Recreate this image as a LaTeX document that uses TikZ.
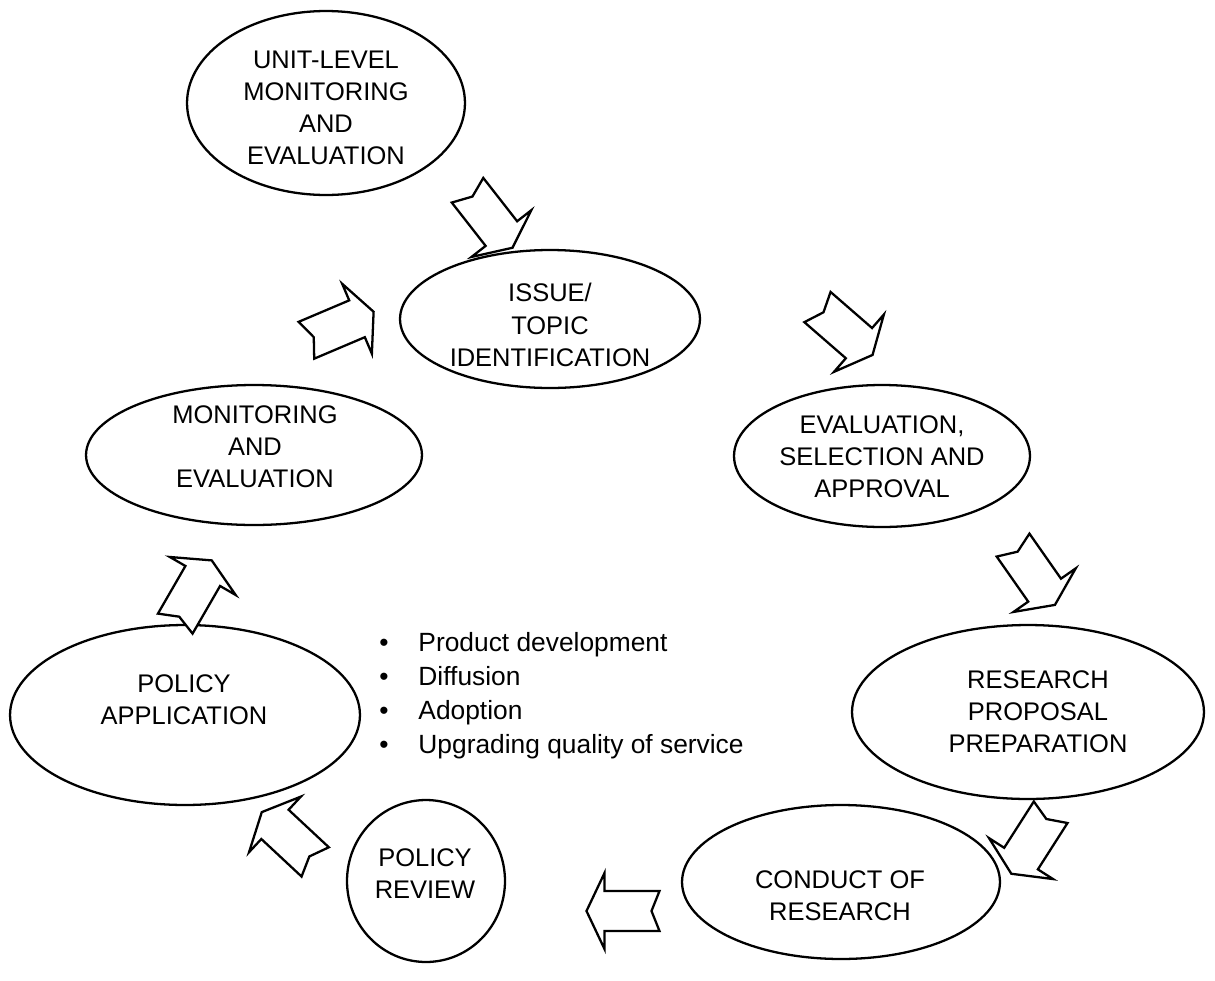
\documentclass[tikz,border=0pt]{standalone}
\usepackage{fontspec}
\setmainfont{Liberation Sans}
\usetikzlibrary{shapes.geometric}
\newcommand\notcharrow[3]{%
  \draw[blockarrow, shift={(#1,#2)}, rotate=#3]
    (-36.5,20) -- (18.5,20) -- (18.5,38) -- (36.5,0) -- (18.5,-38) -- (18.5,-20)
    -- (-36.5,-20) -- (-28.5,0) -- cycle;}
\begin{document}
\begin{tikzpicture}[x=0.02cm,y=-0.02cm,
  stage/.style={draw, ellipse, line width=1.3pt, inner sep=0pt},
  stagetext/.style={inner sep=0pt, align=center, font=\fontsize{14.5}{18.3}\selectfont},
  blockarrow/.style={draw, line width=1.3pt, fill=white, line join=miter}]
\useasboundingbox[fill=white] (0,0) rectangle (1215,981);

\node[stage, minimum width=5.56cm, minimum height=3.68cm] (unit) at (326,103) {};
\node[stagetext] (unitT) at (326,108) {UNIT-LEVEL\\MONITORING\\AND\\EVALUATION};
\node[stage, minimum width=6.0cm, minimum height=2.76cm] (issue) at (550,319) {};
\node[stagetext] (issueT) at (550,325) {ISSUE/\\TOPIC\\IDENTIFICATION};
\node[stage, minimum width=5.92cm, minimum height=2.84cm] (eval) at (882,456) {};
\node[stagetext] (evalT) at (882,456.5) {EVALUATION,\\SELECTION AND\\APPROVAL};
\node[stage, minimum width=7.04cm, minimum height=3.48cm] (proposal) at (1028,712) {};
\node[stagetext] (proposalT) at (1038,711.5) {RESEARCH\\PROPOSAL\\PREPARATION};
\node[stage, minimum width=6.36cm, minimum height=3.08cm] (conduct) at (841,882) {};
\node[stagetext] (conductT) at (840,896) {CONDUCT OF\\RESEARCH};
\node[stage, minimum width=3.16cm, minimum height=3.24cm] (review) at (426,881) {};
\node[stagetext] (reviewT) at (425,874) {POLICY\\REVIEW};
\node[stage, minimum width=7.0cm, minimum height=3.6cm] (application) at (185,715) {};
\node[stagetext] (applicationT) at (184,700) {POLICY\\APPLICATION};
\node[stage, minimum width=6.72cm, minimum height=2.8cm] (monitoring) at (254,455) {};
\node[stagetext] (monitoringT) at (255,447) {MONITORING\\AND\\EVALUATION};

\notcharrow{490}{219}{-52}
\notcharrow{340}{326}{23}
\notcharrow{845}{331}{-41}
\notcharrow{1034}{575}{-55}
\notcharrow{1031}{843}{-122.6}
\notcharrow{623}{911}{180}
\notcharrow{288.5}{837}{137}
\notcharrow{193.5}{592}{60}

\node[anchor=west, inner sep=0pt, font=\fontsize{15}{19.3}\selectfont] (list) at (379,695.5)
  {\begin{tabular}{@{}l@{\hspace{17pt}}l@{}}
   •&Product development\\
   •&Diffusion\\
   •&Adoption\\
   •&Upgrading quality of service
   \end{tabular}};
\end{tikzpicture}
\end{document}
